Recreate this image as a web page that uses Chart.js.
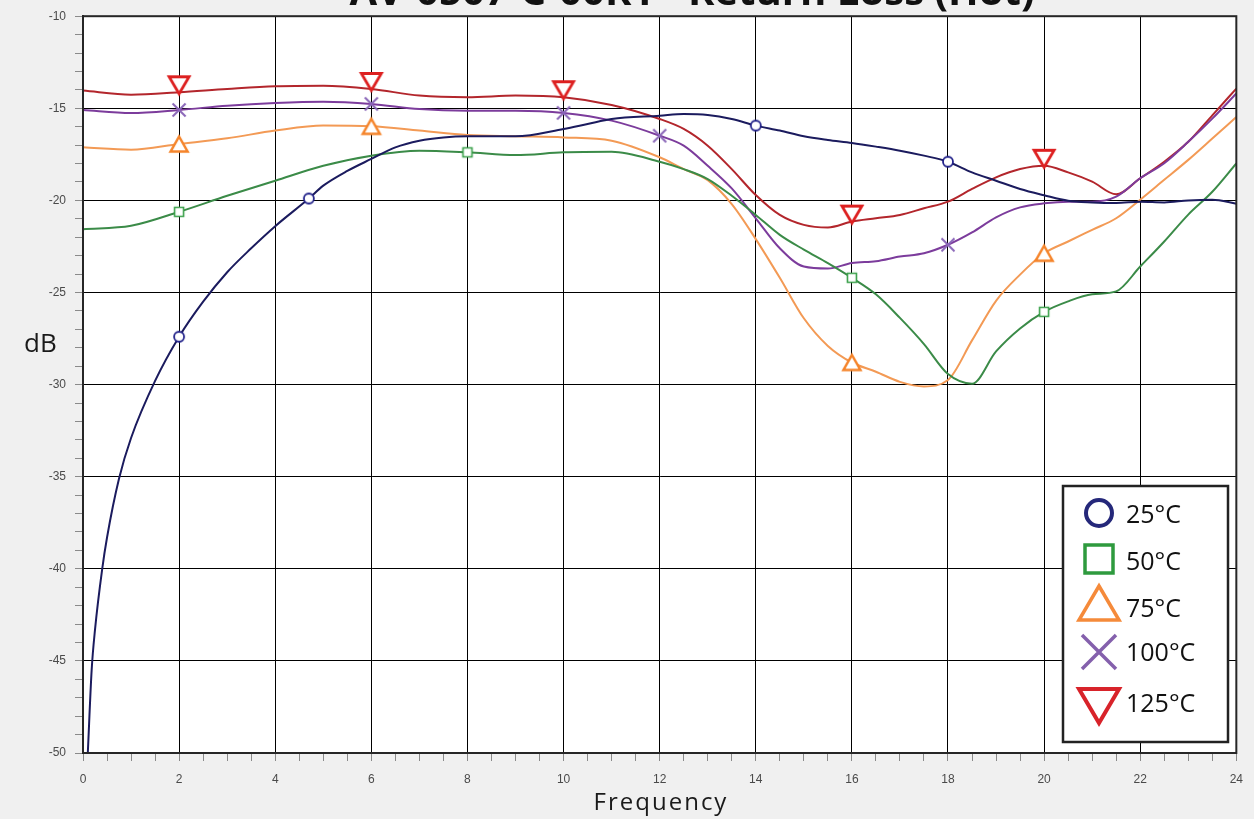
<!DOCTYPE html>
<html>
<head>
<meta charset="utf-8">
<title>Return Loss (Hot)</title>
<script src="https://cdn.jsdelivr.net/npm/chart.js"></script>
<style>
  html, body { margin: 0; padding: 0; background: #f0f0f0; }
  canvas { display: block; }
</style>
</head>
<body>
<canvas id="myChart" width="1254" height="819"></canvas>
<script>
// frequency grid shared by the 50..125 C sweeps
var freq = [0, 1, 2, 3, 4, 5, 6, 7, 8, 9, 10, 11, 12,
  12.5, 13, 13.5, 14, 14.5, 15, 15.5, 16, 16.5, 17, 17.5, 18,
  18.5, 19, 19.5, 20, 20.5, 21, 21.5, 22, 22.5, 23, 23.5, 24];

// 25 C sweep has its own points (steep start near 0)
var freq25 = [0.1, 0.18, 0.25, 0.4, 0.5, 0.75, 1, 1.5,
  2, 2.5, 3, 3.5, 4, 4.7, 5, 5.5, 6, 6.5, 7, 7.5, 8,
  9, 10, 10.5, 11, 12,
  12.5, 13, 13.5, 14, 14.5, 15, 15.5, 16, 16.5, 17, 17.5, 18,
  18.5, 19, 19.5, 20, 20.5, 21, 21.5, 22, 22.5, 23, 23.5, 24];
var db25 = [-50, -45.5, -43.3, -40, -38.3, -35.1, -32.9, -29.8,
  -27.4, -25.5, -23.9, -22.6, -21.4, -19.9, -19.2, -18.4, -17.75, -17.12, -16.76, -16.58, -16.52,
  -16.52, -16.12, -15.85, -15.58, -15.4,
  -15.31, -15.36, -15.58, -15.94, -16.21, -16.52, -16.72, -16.88, -17.08, -17.3, -17.57, -17.9,
  -18.48, -18.93, -19.38, -19.72, -20.02, -20.11, -20.14, -20.07, -20.11, -20.0, -19.96, -20.18];

var db50 = [-21.56, -21.38, -20.62, -19.75, -18.93, -18.12, -17.57, -17.3, -17.39, -17.54, -17.39, -17.36, -17.9,
  -18.3, -18.84, -19.75, -20.79, -21.87, -22.67, -23.4, -24.2, -25.1, -26.38, -27.8, -29.43,
  -29.95, -28.2, -26.95, -26.05, -25.48, -25.1, -24.94, -23.59, -22.23, -20.77, -19.53, -17.99];

var db75 = [-17.12, -17.25, -16.94, -16.63, -16.21, -15.94, -15.98, -16.21, -16.45, -16.52, -16.58, -16.76, -17.66,
  -18.3, -18.9, -20.2, -22.1, -24.2, -26.4, -27.9, -28.8, -29.3, -29.85, -30.1, -29.75,
  -27.6, -25.45, -24.03, -22.87, -22.23, -21.6, -20.97, -19.96, -18.88, -17.8, -16.64, -15.47];

var db100 = [-15.09, -15.25, -15.09, -14.86, -14.71, -14.64, -14.76, -15.04, -15.13, -15.13, -15.25, -15.67, -16.49,
  -17.03, -18.12, -19.35, -20.97, -22.6, -23.59, -23.7, -23.4, -23.3, -23.05, -22.87, -22.41,
  -21.74, -20.92, -20.38, -20.16, -20.07, -20.07, -19.8, -18.8, -17.98, -16.82, -15.56, -14.2];

var db125 = [-14.04, -14.26, -14.13, -13.95, -13.8, -13.77, -13.95, -14.31, -14.4, -14.31, -14.4, -14.82, -15.58,
  -16.12, -17.03, -18.3, -19.71, -20.79, -21.33, -21.47, -21.15, -20.97, -20.79, -20.43, -20.07,
  -19.38, -18.75, -18.3, -18.12, -18.48, -18.98, -19.67, -18.8, -17.9, -16.82, -15.38, -13.93];

// frequencies that carry a marker symbol
var mark25 = [2, 4.7, 14, 18];
var mark50 = [2, 8, 16, 20];
var mark75 = [2, 6, 16, 20];
var mark100 = [2, 6, 10, 12, 18];
var mark125 = [2, 6, 10, 16, 20];

var labels = ['25°C', '50°C', '75°C', '100°C', '125°C'];

// draws one marker symbol centred on x,y
function drawMarker(ctx, kind, x, y, w, h, color, lw) {
  ctx.save();
  ctx.strokeStyle = color;
  ctx.fillStyle = '#fff';
  ctx.lineWidth = lw;
  ctx.lineJoin = 'miter';
  ctx.beginPath();
  if (kind == 'circle') {
    ctx.arc(x, y, w / 2, 0, Math.PI * 2);
    ctx.fill(); ctx.stroke();
  } else if (kind == 'square') {
    ctx.rect(x - w / 2, y - h / 2, w, h);
    ctx.fill(); ctx.stroke();
  } else if (kind == 'up') {
    ctx.moveTo(x, y - h / 2);
    ctx.lineTo(x + w / 2, y + h / 2);
    ctx.lineTo(x - w / 2, y + h / 2);
    ctx.closePath();
    ctx.fill(); ctx.stroke();
  } else if (kind == 'down') {
    ctx.moveTo(x - w / 2, y - h / 2);
    ctx.lineTo(x + w / 2, y - h / 2);
    ctx.lineTo(x, y + h / 2);
    ctx.closePath();
    ctx.fill(); ctx.stroke();
  } else if (kind == 'cross') {
    ctx.moveTo(x - w / 2, y - h / 2); ctx.lineTo(x + w / 2, y + h / 2);
    ctx.moveTo(x + w / 2, y - h / 2); ctx.lineTo(x - w / 2, y + h / 2);
    ctx.stroke();
  }
  ctx.restore();
}

// small canvas used as a pointStyle image
function markerImage(kind, w, h, color, lw, dy) {
  var c = document.createElement('canvas');
  var size = Math.ceil(Math.max(w, h + 2 * Math.abs(dy)) + lw * 2 + 4);
  if (size % 2) size++;
  c.width = size; c.height = size;
  drawMarker(c.getContext('2d'), kind, size / 2, size / 2 + dy, w, h, color, lw);
  return c;
}

function makeSet(label, xs, ys, marks, lineColor, img) {
  return {
    label: label,
    data: xs.map(function (x, i) { return { x: x, y: ys[i] }; }),
    borderColor: lineColor,
    borderWidth: 2,
    cubicInterpolationMode: 'monotone',
    pointStyle: img,
    pointRadius: function (c) { return c.raw && marks.indexOf(c.raw.x) >= 0 ? 6 : 0; },
    pointHoverRadius: 0,
    fill: false
  };
}

var datasets = [
  makeSet(labels[0], freq25, db25, mark25, '#1b1b5e', markerImage('circle', 10, 10, '#22228a', 1.8, 0)),
  makeSet(labels[1], freq, db50, mark50, '#3b8b48', markerImage('square', 9, 9, '#3aa04a', 1.6, 0)),
  makeSet(labels[2], freq, db75, mark75, '#f39a55', markerImage('up', 17, 15, '#f5842a', 2.5, 0)),
  makeSet(labels[3], freq, db100, mark100, '#7c3c9c', markerImage('cross', 13, 13, '#8a66b8', 2, 0)),
  makeSet(labels[4], freq, db125, mark125, '#b3262c', markerImage('down', 20, 17, '#dd2020', 2.8, -7))
];

// legend symbols
var legendItems = [
  { kind: 'circle', w: 26, h: 26, lw: 4, color: '#25287a', cy: 513, ty: 523 },
  { kind: 'square', w: 28, h: 28, lw: 3.5, color: '#2e9a3e', cy: 559, ty: 570 },
  { kind: 'up', w: 40, h: 34, lw: 3.5, color: '#f58a3a', cy: 603, ty: 617 },
  { kind: 'cross', w: 34, h: 34, lw: 3.5, color: '#8460ac', cy: 652, ty: 661 },
  { kind: 'down', w: 40, h: 34, lw: 4, color: '#d8232a', cy: 706, ty: 712 }
];

var decor = {
  id: 'decor',
  beforeDraw: function (chart) {
    var ctx = chart.ctx, a = chart.chartArea;
    ctx.save();
    ctx.fillStyle = '#f0f0f0';
    ctx.fillRect(0, 0, chart.width, chart.height);
    ctx.fillStyle = '#ffffff';
    ctx.fillRect(a.left, a.top, a.right - a.left, a.bottom - a.top);
    ctx.restore();
  },
  afterDraw: function (chart) {
    var ctx = chart.ctx, a = chart.chartArea;
    ctx.save();
    // frame around the plot
    ctx.strokeStyle = '#262626';
    ctx.lineWidth = 2;
    ctx.strokeRect(a.left, a.top, a.right - a.left, a.bottom - a.top);

    // title, mostly above the top edge
    var title = 'AV-0507-C-00R1 - Return Loss (Hot)';
    ctx.font = 'bold 32px "Open Sans"';
    var tw = ctx.measureText(title).width;
    var fs = 32 * 685 / tw;
    ctx.font = 'bold ' + fs.toFixed(1) + 'px "Open Sans"';
    ctx.fillStyle = '#111';
    ctx.textAlign = 'center';
    ctx.textBaseline = 'alphabetic';
    ctx.fillText(title, 692, 5);

    // axis titles
    ctx.font = '26px "Open Sans"';
    ctx.textAlign = 'left';
    ctx.fillStyle = '#1a1a1a';
    ctx.fillText('dB', 24, 352);
    ctx.font = '24px "Open Sans"';
    ctx.letterSpacing = '2px';
    ctx.textAlign = 'center';
    ctx.fillText('Frequency', 661, 810);
    ctx.letterSpacing = '0px';

    // legend box
    ctx.fillStyle = '#fff';
    ctx.fillRect(1063, 486, 165, 256);
    ctx.strokeStyle = '#222';
    ctx.lineWidth = 2.5;
    ctx.strokeRect(1063, 486, 165, 256);
    ctx.font = '25px "Open Sans"';
    ctx.textAlign = 'left';
    ctx.fillStyle = '#111';
    legendItems.forEach(function (it, i) {
      drawMarker(ctx, it.kind, 1099, it.cy, it.w, it.h, it.color, it.lw);
      ctx.fillText(labels[i], 1126, it.ty);
    });
    ctx.restore();
  }
};

var tickFont = { family: '"Liberation Sans", Arial, sans-serif', size: 12 };

var ctx = document.getElementById('myChart');
var myChart = new Chart(ctx, {
  type: 'line',
  data: { datasets: datasets },
  options: {
    responsive: false,
    animation: false,
    events: [],
    layout: { padding: { top: 14, right: 16, left: 0, bottom: 0 } },
    plugins: {
      legend: { display: false },
      tooltip: { enabled: false },
      title: { display: false }
    },
    scales: {
      x: {
        type: 'linear',
        min: 0,
        max: 24,
        afterFit: function (s) { s.height = 66; },
        ticks: {
          stepSize: 0.5,
          autoSkip: false,
          maxRotation: 0,
          padding: 11,
          color: '#4a4a4a',
          font: tickFont,
          callback: function (v) { return v % 2 === 0 ? String(v) : ''; }
        },
        grid: {
          color: function (c) { return c.tick && c.tick.value % 2 === 0 ? '#000' : 'rgba(0,0,0,0)'; },
          tickColor: '#8a8a8a',
          tickLength: 8,
          lineWidth: 1
        },
        border: { color: '#262626', width: 2 }
      },
      y: {
        type: 'linear',
        min: -50,
        max: -10,
        afterFit: function (s) { s.width = 83; },
        ticks: {
          stepSize: 1,
          autoSkip: false,
          maxTicksLimit: 100,
          padding: 9,
          color: '#4a4a4a',
          font: tickFont,
          callback: function (v) { return v % 5 === 0 ? String(v) : ''; }
        },
        grid: {
          color: function (c) { return c.tick && c.tick.value % 5 === 0 ? '#000' : 'rgba(0,0,0,0)'; },
          tickColor: '#8a8a8a',
          tickLength: 8,
          lineWidth: 1
        },
        border: { color: '#262626', width: 2 }
      }
    }
  },
  plugins: [decor]
});
</script>
</body>
</html>
